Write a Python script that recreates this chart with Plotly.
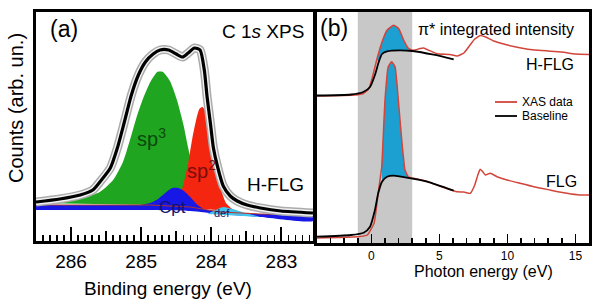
import plotly.graph_objects as go

# ---------------- (a) C 1s XPS of H-FLG ----------------
# binding energy (eV) / counts (arb. un.)
be_env = [286.50, 286.16, 285.87, 285.69, 285.59, 285.44, 285.34, 285.24, 285.14, 285.04,
          284.94, 284.83, 284.73, 284.61, 284.50, 284.41, 284.33, 284.24, 284.16, 284.10,
          284.06, 284.01, 283.97, 283.91, 283.83, 283.73, 283.63, 283.49, 283.30, 283.01, 282.55]
cnt_env = [39, 42, 46, 51, 59, 73, 93, 119, 146, 166,
           179, 187, 191, 191, 187, 184, 188, 193, 191, 171,
           144, 116, 93, 74, 55, 45, 40, 36, 33, 30, 28]

be_sp3 = [286.50, 286.16, 285.83, 285.59, 285.40, 285.26, 285.16, 285.06, 284.97, 284.87,
          284.77, 284.69, 284.59, 284.49, 284.40, 284.33, 284.26, 284.19, 284.10, 283.99]
cnt_sp3 = [38, 40, 43, 49, 61, 79, 101, 125, 143, 159,
           169, 169, 160, 141, 117, 93, 71, 53, 41, 35]

be_sp2 = [284.59, 284.47, 284.39, 284.33, 284.27, 284.21, 284.17, 284.13, 284.09, 284.04,
          284.00, 283.96, 283.91, 283.86, 283.79, 283.70, 283.59, 283.44]
cnt_sp2 = [35, 41, 59, 78, 103, 123, 132, 134, 131, 119,
           101, 83, 67, 51, 38, 32, 29, 28]

be_cpt = [285.01, 284.87, 284.76, 284.64, 284.56, 284.47, 284.39, 284.30, 284.21, 284.11, 284.01]
cnt_cpt = [36, 38, 42, 49, 53, 53, 50, 44, 37, 32, 29]

be_def = [284.06, 283.94, 283.83, 283.70, 283.51, 283.30]
cnt_def = [27, 31, 34, 32, 28, 24]

be_bg = [286.50, 285.59, 284.87, 284.30, 283.87, 283.30, 282.55]
bg_top = [36, 36, 36, 34, 29, 27, 26]
bg_bot = [31, 31, 31, 30, 27, 24, 20]

xps_ticks = [286, 285, 284, 283]

# ---------------- (b) C K-edge XAS ----------------
e_hflg = [-4.0, -2.0, -1.2, -0.6, -0.2, 0.04, 0.41, 0.78, 1.15, 1.64, 2.01, 2.38, 2.74, 3.11,
          3.57, 3.85, 4.21, 4.82, 5.78, 6.3, 6.8, 7.2, 7.6, 8.0, 8.4, 9.0, 10.0, 11.0, 12.0,
          13.0, 14.0, 15.0, 16.0]
xas_hflg = [147, 147.5, 148, 149.5, 154, 164, 184, 201, 212.7, 217.7, 214.3, 202.7, 194.3, 192.7,
            194.5, 195, 192.7, 189.3, 188.5, 187, 190, 197, 204, 207.5, 206, 202, 198, 195, 193,
            192, 191, 189, 188.5]
e_hflg_base = [-4.0, -1.5, -0.6, -0.1, 0.26, 0.54, 0.78, 1.15, 2.1, 3.0, 4.58, 6.05]
base_hflg = [147.5, 148.5, 151, 156, 168, 181, 189, 191.7, 192.7, 192, 188.3, 183.7]

e_flg = [-4.0, -1.0, -0.3, 0.2, 0.5, 0.65, 0.76, 1.0, 1.24, 1.49, 1.74, 1.98, 2.23, 2.47, 2.71,
         3.2, 4.0, 5.0, 6.29, 6.8, 7.27, 7.6, 7.85, 8.0, 8.2, 8.38, 8.74, 9.24, 9.97, 10.71,
         11.93, 13.13, 14.38, 15.34, 16.07]
xas_flg = [5, 6.3, 8, 20, 50, 65, 76.3, 143, 176.3, 181.3, 176.3, 143, 103, 73, 66.3,
           64.5, 62, 57, 51.3, 51, 49.7, 58, 69, 73.7, 71, 68, 69.7, 66.3, 63, 60.5,
           56.3, 53, 49.7, 48, 48]
e_flg_base = [-4.0, -1.5, -0.57, -0.1, 0.26, 0.5, 0.78, 1.15, 1.64, 2.6, 4.1, 6.05]
base_flg = [6.3, 8, 10.3, 16.3, 33, 49.7, 61.3, 66.3, 67.3, 65.3, 61.3, 52.3]

pi_window = [-1, 3]
xas_ticks = [0, 5, 10, 15]
legend_names = ["XAS data", "Baseline"]

FONT = "Arial, Liberation Sans, sans-serif"
W, H = 600, 306
RED = "#d2453a"


def closed(xs, ys, x2, y2):
    # polygon: first curve forward, second curve backward
    return list(xs) + list(x2)[::-1], list(ys) + list(y2)[::-1]


def peak_area(e, d, eb, b, lo, hi):
    xs = [x for x in e if lo <= x <= hi]
    ys = [y for x, y in zip(e, d) if lo <= x <= hi]
    xb = [x for x in eb if lo <= x <= hi]
    yb = [y for x, y in zip(eb, b) if lo <= x <= hi]
    return closed(xs, ys, xb, yb)


fig = go.Figure()

# --- panel (a) components ---
def comp(x, y, color):
    fig.add_trace(go.Scatter(x=x, y=y, fill="toself", fillcolor=color, mode="lines",
                             line=dict(width=0, shape="spline", smoothing=0.6),
                             xaxis="x", yaxis="y", showlegend=False, hoverinfo="skip"))

comp(be_sp3, cnt_sp3, "#1fa51f")
comp(be_sp2, cnt_sp2, "#f5260f")
comp(be_cpt, cnt_cpt, "#1717e6")
bx, by = closed(be_bg, bg_top, be_bg, bg_bot)
comp(bx, by, "#1717e6")
comp(be_def, cnt_def, "#45c3ec")

fig.add_trace(go.Scatter(x=be_bg, y=bg_top, mode="lines", line=dict(color="#b4342a", width=1),
                         xaxis="x", yaxis="y", showlegend=False, hoverinfo="skip"))

# measured points halo + fit envelope
for col, w in [("#ababab", 9), ("#f2f2f2", 6), ("#000000", 3.2)]:
    fig.add_trace(go.Scatter(x=be_env, y=cnt_env, mode="lines",
                             line=dict(color=col, width=w, shape="spline", smoothing=0.6),
                             xaxis="x", yaxis="y", showlegend=False, hoverinfo="skip"))

# --- panel (b) ---
for e, d, eb, b, lo, hi in [(e_hflg, xas_hflg, e_hflg_base, base_hflg, 0.4, 3.2),
                            (e_flg, xas_flg, e_flg_base, base_flg, 0.7, 2.8)]:
    px_, py_ = peak_area(e, d, eb, b, lo, hi)
    fig.add_trace(go.Scatter(x=px_, y=py_, fill="toself", fillcolor="#1c9fd1", mode="lines",
                             line=dict(width=0, shape="spline", smoothing=0.5),
                             xaxis="x2", yaxis="y2", showlegend=False, hoverinfo="skip"))

for e, d in [(e_hflg, xas_hflg), (e_flg, xas_flg)]:
    fig.add_trace(go.Scatter(x=e, y=d, mode="lines", name=legend_names[0], showlegend=False,
                             line=dict(color=RED, width=1.5, shape="spline", smoothing=0.4),
                             xaxis="x2", yaxis="y2"))
for e, b in [(e_hflg_base, base_hflg), (e_flg_base, base_flg)]:
    fig.add_trace(go.Scatter(x=e, y=b, mode="lines", name=legend_names[1], showlegend=False,
                             line=dict(color="black", width=1.8, shape="spline", smoothing=0.6),
                             xaxis="x2", yaxis="y2"))

fig.add_shape(type="rect", xref="x2", yref="y2 domain", x0=pi_window[0], x1=pi_window[1],
              y0=0, y1=1, fillcolor="#c8c8c8", line_width=0, layer="below")

# hand-made legend (tight rows like the original)
for name, col, yy in [(legend_names[0], RED, 102), (legend_names[1], "black", 116)]:
    fig.add_shape(type="line", xref="paper", yref="paper", x0=495 / W, x1=517 / W,
                  y0=1 - yy / H, y1=1 - yy / H, line=dict(color=col, width=1.8))
    fig.add_annotation(text=name, x=520 / W, y=1 - yy / H, xref="paper", yref="paper",
                       xanchor="left", yanchor="middle", showarrow=False,
                       font=dict(size=12, family=FONT))

frame = dict(showline=True, linewidth=3, linecolor="black", mirror=True,
             showgrid=False, zeroline=False)


def ann(text, x, y, size, xanchor="center", color="black", angle=0):
    fig.add_annotation(text=text, x=x / W, y=1 - y / H, xref="paper", yref="paper",
                       xanchor=xanchor, yanchor="middle", showarrow=False, textangle=angle,
                       font=dict(size=size, color=color, family=FONT))


ann("(a)", 64, 29, 23)
ann("C 1<i>s</i> XPS", 306, 32, 19, xanchor="right")
ann("H-FLG", 306, 184, 19, xanchor="right")
ann("sp<sup>3</sup>", 151, 137, 20, color="#0b4a0b")
ann("sp<sup>2</sup>", 201, 169, 20, color="#7a0c0c")
ann("Cpt", 172, 207, 17, color="#12126e")
ann("def", 222, 213, 11, color="#12126e")
ann("Counts (arb. un.)", 16, 108, 20, angle=-90)
ann("Binding energy (eV)", 168, 288, 19)
ann("(b)", 334, 28, 23)
ann("π* integrated intensity", 496, 29, 16)
ann("H-FLG", 576, 64, 16, xanchor="right")
ann("FLG", 579, 181, 16, xanchor="right")
ann("Photon energy (eV)", 483, 271, 16)

fig.update_layout(
    width=W, height=H,
    margin=dict(l=0, r=0, t=0, b=0),
    paper_bgcolor="white", plot_bgcolor="white",
    font=dict(family=FONT, color="black"),
    showlegend=False,
    xaxis=dict(domain=[36 / W, 313 / W], range=[286.5, 282.55], anchor="y",
               ticks="inside", tickvals=xps_ticks, ticklen=14, tickwidth=2, tickcolor="black",
               tickfont=dict(size=19), ticklabelstandoff=1, automargin=False,
               minor=dict(ticks="inside", dtick=0.1, tick0=283, ticklen=6, tickwidth=1.5,
                          tickcolor="black"),
               **frame),
    xaxis3=dict(overlaying="x", anchor="y", range=[286.5, 282.55], ticks="inside",
                tick0=282.5, dtick=0.5, ticklen=10, tickwidth=2, tickcolor="black",
                showticklabels=False, showgrid=False, zeroline=False, showline=False),
    yaxis=dict(domain=[65 / H, 294 / H], range=[0, 229], anchor="x", automargin=False,
               showticklabels=False, ticks="", **frame),
    xaxis2=dict(domain=[317 / W, 589 / W], range=[-4, 16], anchor="y2",
                ticks="inside", tickvals=xas_ticks, ticklen=9, tickwidth=1.5, tickcolor="black",
                tickfont=dict(size=12), ticklabelstandoff=0, automargin=False,
                minor=dict(ticks="inside", dtick=1, tick0=0, ticklen=5, tickwidth=1.5,
                           tickcolor="black"),
                **frame),
    yaxis2=dict(domain=[63 / H, 294 / H], range=[0, 231], anchor="x2", automargin=False,
                showticklabels=False, ticks="", **frame),
)

# dummy trace so the half-eV tick axis is drawn
fig.add_trace(go.Scatter(x=[be_env[0]], y=[cnt_env[0]], mode="markers", marker=dict(opacity=0),
                         xaxis="x3", yaxis="y", showlegend=False, hoverinfo="skip"))

fig.write_html("out.html", config={"displayModeBar": False, "staticPlot": True},
               post_script="document.body.style.margin='0px';")
